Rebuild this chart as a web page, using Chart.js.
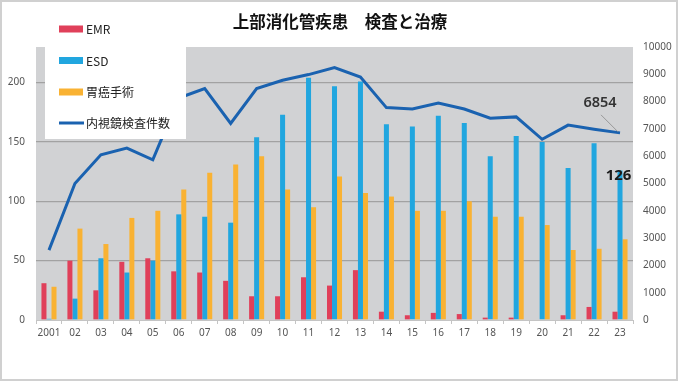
<!DOCTYPE html>
<html><head><meta charset="utf-8">
<script src="https://cdn.jsdelivr.net/npm/chart.js@4/dist/chart.umd.min.js"></script>
<style>html,body{margin:0;padding:0;background:#fff;}canvas{display:block}</style>
</head><body>
<canvas id="c" width="680" height="382"></canvas>
<script>
const chartTitle = '上部消化管疾患\u3000検査と治療';
const years = ['2001','02','03','04','05','06','07','08','09','10','11','12','13','14','15','16','17','18','19','20','21','22','23'];
const emr = [31,50,25,49,52,41,40,33,20,20,36,29,42,7,4,6,5,2,2,0,4,11,7];
const esd = [1,18,52,40,50,89,87,82,154,173,204,197,201,165,163,172,166,138,155,150,128,149,126];
const surgery = [28,77,64,86,92,110,124,131,138,110,95,121,107,104,92,92,100,87,87,80,59,60,68];
const endoscopy = [2560,5000,6050,6300,5870,8130,8480,7200,8480,8780,8990,9250,8900,7780,7730,7950,7730,7390,7440,6620,7140,6990,6854];
const leftTicks = [0,50,100,150,200];
const rightTicks = [0,1000,2000,3000,4000,5000,6000,7000,8000,9000,10000];
const seriesNames = ['EMR','ESD','胃癌手術','内視鏡検査件数'];
const seriesColors = ['#e0405a','#21a6df','#f9b233','#1a62b0'];

const jp = '"Noto Sans CJK JP", "Noto Sans", sans-serif';
const tickFont = {family:'"Noto Sans", "Open Sans", sans-serif', size:10};

const bgPlugin = {
  id:'bg',
  beforeDraw(chart){
    const {ctx, chartArea:a} = chart;
    ctx.save();
    ctx.fillStyle = '#fff';
    ctx.fillRect(0,0,chart.width,chart.height);
    ctx.fillStyle = '#d1d2d4';
    ctx.fillRect(a.left,a.top,a.right-a.left,a.bottom-a.top);
    ctx.strokeStyle = '#d0d0d0';
    ctx.lineWidth = 2;
    ctx.strokeRect(1,1,676,379);
    ctx.fillStyle = '#111';
    ctx.font = 'bold 16.5px ' + jp;
    ctx.textAlign = 'center';
    ctx.textBaseline = 'middle';
    ctx.fillText(chartTitle, 340, 22);
    ctx.restore();
  }
};

const labelPlugin = {
  id:'labels',
  afterDatasetsDraw(chart){
    const {ctx} = chart;
    const last = years.length - 1;
    const lp = chart.getDatasetMeta(3).data[last];
    const bp = chart.getDatasetMeta(1).data[last];
    ctx.save();
    ctx.strokeStyle = '#8a8a8a';
    ctx.lineWidth = 0.8;
    ctx.beginPath();
    ctx.moveTo(lp.x - 19, lp.y - 18);
    ctx.lineTo(lp.x - 2, lp.y - 1);
    ctx.stroke();
    ctx.fillStyle = '#333';
    ctx.font = '600 14.5px "Noto Sans", sans-serif';
    ctx.textAlign = 'center';
    ctx.textBaseline = 'middle';
    ctx.fillText(String(endoscopy[last]), lp.x - 20, lp.y - 30);
    ctx.fillStyle = '#1a1a1a';
    ctx.font = 'bold 15px "Noto Sans", sans-serif';
    ctx.fillText(String(esd[last]), bp.x - 1.5, bp.y + 5);
    ctx.restore();
  },
  afterDraw(chart){
    const {ctx} = chart;
    ctx.save();
    ctx.fillStyle = '#fff';
    ctx.fillRect(45,12,141,127);
    const ys = [29,60.5,92,123];
    ctx.font = '12px ' + jp;
    ctx.textBaseline = 'middle';
    ctx.textAlign = 'left';
    seriesNames.forEach((n,i)=>{
      if(i<3){
        ctx.fillStyle = seriesColors[i];
        ctx.fillRect(59, ys[i]-3.5, 24, 7);
      } else {
        ctx.strokeStyle = seriesColors[i];
        ctx.lineWidth = 3;
        ctx.beginPath();
        ctx.moveTo(59, ys[i]); ctx.lineTo(84, ys[i]);
        ctx.stroke();
      }
      ctx.fillStyle = '#222';
      ctx.fillText(n, 86, ys[i]+0.5);
    });
    ctx.restore();
  }
};

new Chart(document.getElementById('c'), {
  type:'bar',
  data:{
    labels: years,
    datasets:[
      {label:seriesNames[0], data:emr, backgroundColor:seriesColors[0], yAxisID:'y', order:2, categoryPercentage:0.58, barPercentage:1.0},
      {label:seriesNames[1], data:esd, backgroundColor:seriesColors[1], yAxisID:'y', order:2, categoryPercentage:0.58, barPercentage:1.0},
      {label:seriesNames[2], data:surgery, backgroundColor:seriesColors[2], yAxisID:'y', order:2, categoryPercentage:0.58, barPercentage:1.0},
      {type:'line', label:seriesNames[3], data:endoscopy, borderColor:seriesColors[3], backgroundColor:seriesColors[3], borderWidth:3, pointRadius:0, tension:0, yAxisID:'y1', order:1}
    ]
  },
  options:{
    responsive:false,
    animation:false,
    layout:{padding:{top:47,left:0,right:0,bottom:0}},
    plugins:{legend:{display:false}, title:{display:false}, tooltip:{enabled:false}},
    scales:{
      x:{
        offset:true,
        grid:{display:true, drawOnChartArea:false, drawTicks:true, tickLength:4, color:'#c4c4c4', offset:true},
        border:{display:true, color:'#c4c4c4'},
        ticks:{color:'#555', font:tickFont, padding:3, maxRotation:0, autoSkip:false},
        afterFit(s){ s.height = 62; }
      },
      y:{
        position:'left', min:0, max:230,
        afterBuildTicks(s){ s.ticks = leftTicks.map(v=>({value:v})); },
        grid:{drawTicks:false, color:(c)=> c.tick && c.tick.value===0 ? 'rgba(0,0,0,0)' : '#a2a2a2', lineWidth:1.3},
        border:{display:false},
        ticks:{color:'#555', font:tickFont, padding:11, callback:(v)=>String(v)},
        afterFit(s){ s.width = 36; }
      },
      y1:{
        position:'right', min:0, max:10000,
        afterBuildTicks(s){ s.ticks = rightTicks.map(v=>({value:v})); },
        grid:{display:false, drawTicks:false},
        border:{display:false},
        ticks:{color:'#555', font:tickFont, padding:10, callback:(v)=>String(v)},
        afterFit(s){ s.width = 47; }
      }
    }
  },
  plugins:[bgPlugin, labelPlugin]
});
</script>
</body></html>
